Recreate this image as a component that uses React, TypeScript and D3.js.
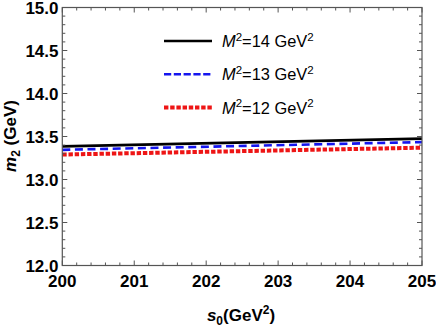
import React from "react";
import * as d3 from "d3";

const xDomain = [200, 205];
const yDomain = [12, 15];
const xTicks = [200, 201, 202, 203, 204, 205];
const yTicks = [12.0, 12.5, 13.0, 13.5, 14.0, 14.5, 15.0];
const s0 = [200, 205];
const m14 = [13.385, 13.475];
const m13 = [13.345, 13.435];
const m12 = [13.29, 13.37];
const legendLabels = ["14", "13", "12"];

const W = 436, H = 327;
const L = 62.3, R = 422, T = 7.5, B = 265.5;

export default function App() {
  const x = d3.scaleLinear().domain(xDomain).range([L, R]);
  const y = d3.scaleLinear().domain(yDomain).range([B, T]);
  const line = d3.line<number>().x((_, i) => x(s0[i])).y((d) => y(d));
  const series = [
    { data: m14, color: "#000", width: 2.6, dash: undefined as string | undefined },
    { data: m13, color: "#1515ee", width: 2.6, dash: "8,4.6" },
    { data: m12, color: "#ee1515", width: 4, dash: "4.4,1.8" },
  ];
  const legendDash = [undefined, "7.2,2.6", "4.4,1.8"];
  const xMinor = d3.range(200, 205.001, 0.2).filter((v) => Math.abs(v - Math.round(v)) > 0.01);
  const yMinor = d3.range(12, 15.001, 0.1).filter((v) => Math.abs(v * 2 - Math.round(v * 2)) > 0.01);
  const axisColor = "#555";
  const font = "'Liberation Sans', Arial, sans-serif";
  return (
    <svg width={W} height={H} style={{ position: "absolute", left: 0, top: 0 }}>
      <rect x={0} y={0} width={W} height={H} fill="#fff" />
      {series.map((s, i) => (
        <path key={i} d={line(s.data) || ""} fill="none" stroke={s.color} strokeWidth={s.width} strokeDasharray={s.dash} />
      ))}
      <rect x={L} y={T} width={R - L} height={B - T} fill="none" stroke={axisColor} strokeWidth={1.2} />
      {xTicks.map((t) => (
        <g key={"xt" + t}>
          <line x1={x(t)} x2={x(t)} y1={B} y2={B - 5} stroke={axisColor} />
          <line x1={x(t)} x2={x(t)} y1={T} y2={T + 5} stroke={axisColor} />
          <text x={x(t)} y={287} textAnchor="middle" fontFamily={font} fontWeight="bold" fontSize={17}>{t}</text>
        </g>
      ))}
      {xMinor.map((t, i) => (
        <g key={"xm" + i}>
          <line x1={x(t)} x2={x(t)} y1={B} y2={B - 3} stroke={axisColor} />
          <line x1={x(t)} x2={x(t)} y1={T} y2={T + 3} stroke={axisColor} />
        </g>
      ))}
      {yTicks.map((t) => (
        <g key={"yt" + t}>
          <line x1={L} x2={L + 5} y1={y(t)} y2={y(t)} stroke={axisColor} />
          <line x1={R} x2={R - 5} y1={y(t)} y2={y(t)} stroke={axisColor} />
          <text x={58.5} y={y(t) + 6} textAnchor="end" fontFamily={font} fontWeight="bold" fontSize={17}>{t.toFixed(1)}</text>
        </g>
      ))}
      {yMinor.map((t, i) => (
        <g key={"ym" + i}>
          <line x1={L} x2={L + 3} y1={y(t)} y2={y(t)} stroke={axisColor} />
          <line x1={R} x2={R - 3} y1={y(t)} y2={y(t)} stroke={axisColor} />
        </g>
      ))}
      <text transform={`translate(16,136) rotate(-90)`} textAnchor="middle" fontFamily={font} fontWeight="bold" fontSize={17}>
        <tspan fontStyle="italic">m</tspan>
        <tspan fontSize={12} dy={4}>2</tspan>
        <tspan dy={-4}> (GeV)</tspan>
      </text>
      <text x={241} y={321} textAnchor="middle" fontFamily={font} fontWeight="bold" fontSize={17}>
        <tspan fontStyle="italic">s</tspan>
        <tspan fontSize={12} dy={4}>0</tspan>
        <tspan dy={-4}>(GeV</tspan>
        <tspan fontSize={12} dy={-7}>2</tspan>
        <tspan dy={7}>)</tspan>
      </text>
      {series.map((s, i) => {
        const ly = 41 + i * 33.3;
        return (
          <g key={"lg" + i}>
            <line x1={164} x2={212} y1={ly} y2={ly} stroke={s.color} strokeWidth={s.width} strokeDasharray={legendDash[i]} />
            <text x={222} y={ly + 6} fontFamily={font} fontSize={16.4}>
              <tspan fontStyle="italic">M</tspan>
              <tspan fontSize={11.5} dy={-6.5}>2</tspan>
              <tspan dy={6.5}>{"=" + legendLabels[i] + " GeV"}</tspan>
              <tspan fontSize={11.5} dy={-6.5}>2</tspan>
            </text>
          </g>
        );
      })}
    </svg>
  );
}
